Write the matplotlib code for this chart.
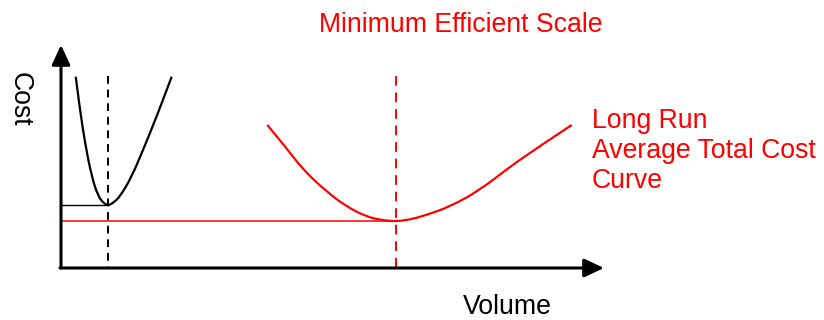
import matplotlib.pyplot as plt
from matplotlib.path import Path
from matplotlib.patches import PathPatch

plt.rcParams['font.family'] = ['Liberation Sans', 'DejaVu Sans']

# values (image units, y grows downwards)
origin = (61, 268)
y_axis_top = 45
x_axis_end = 604

# short run average cost curve (black)
sr_volume = [75.7, 80, 85, 91.7, 98.3, 104, 108.3, 113, 120, 131.7, 143, 156.7, 171.7]
sr_cost = [76.7, 110, 143, 176.7, 196.7, 203.5, 205.5, 203, 196.7, 176.7, 150, 116.7, 76.7]
sr_min = (108.3, 205)

# long run average total cost curve (red)
lr_volume = [267.3, 286.7, 303.3, 326.7, 346.7, 366.7, 381, 396,
             410, 423.3, 450, 480, 510, 540, 571.7]
lr_cost = [125, 148.3, 170, 191.7, 206.7, 216.7, 220, 221.5,
           219.5, 216, 206.7, 190, 166.7, 146, 125]
lr_min = (396, 221)

dash_top = 76

lr_label = ['Long Run', 'Average Total Cost', 'Curve']
lr_label_baselines = [127.7, 158.3, 188.3]

red = '#ff0000'


def smooth_path(xs, ys):
    # quadratic bezier pieces through the midpoints, drawn by matplotlib
    pts = list(zip(xs, ys))
    verts = [pts[0]]
    codes = [Path.MOVETO]
    for i in range(1, len(pts) - 1):
        mid = ((pts[i][0] + pts[i + 1][0]) / 2, (pts[i][1] + pts[i + 1][1]) / 2)
        if i == len(pts) - 2:
            mid = pts[-1]
        verts += [pts[i], mid]
        codes += [Path.CURVE3, Path.CURVE3]
    return Path(verts, codes)


fig = plt.figure(figsize=(8.24, 3.2), dpi=100)
ax = fig.add_axes([0, 0, 1, 1])
ax.set_xlim(0, 824)
ax.set_ylim(320, 0)
ax.axis('off')

# axes with arrow heads
arrow = dict(arrowstyle='-|>,head_length=0.6,head_width=0.28',
             mutation_scale=20, lw=2.2, color='black', shrinkA=0, shrinkB=0)
ax.annotate('', xy=(origin[0], y_axis_top), xytext=origin, arrowprops=arrow)
ax.annotate('', xy=(x_axis_end, origin[1]), xytext=(origin[0] - 1, origin[1]),
            arrowprops=arrow)

# short run
ax.add_patch(PathPatch(smooth_path(sr_volume, sr_cost), fill=False,
                       edgecolor='black', lw=1.6))
ax.plot([origin[0], sr_min[0]], [sr_min[1], sr_min[1]], color='black', lw=1.0)
ax.plot([sr_min[0], sr_min[0]], [dash_top, origin[1]], color='black', lw=1.4,
        dashes=(4, 3))

# long run
ax.add_patch(PathPatch(smooth_path(lr_volume, lr_cost), fill=False,
                       edgecolor=red, lw=1.6))
ax.plot([origin[0], lr_min[0]], [lr_min[1], lr_min[1]], color=red, lw=1.1)
ax.plot([lr_min[0], lr_min[0]], [dash_top, origin[1]], color=red, lw=1.4,
        dashes=(5, 3.5))

# labels
ax.text(461, 31.7, 'Minimum Efficient Scale', color=red, fontsize=19.2,
        ha='center', va='baseline')
for line, base in zip(lr_label, lr_label_baselines):
    ax.text(592, base, line, color=red, fontsize=19.2, ha='left', va='baseline')
ax.text(19.5, 99, 'Cost', fontsize=19.2, rotation=-90, ha='center', va='center')
ax.text(507, 314.5, 'Volume', fontsize=19.2, ha='center', va='baseline')

fig.savefig('out.png', dpi=100)
